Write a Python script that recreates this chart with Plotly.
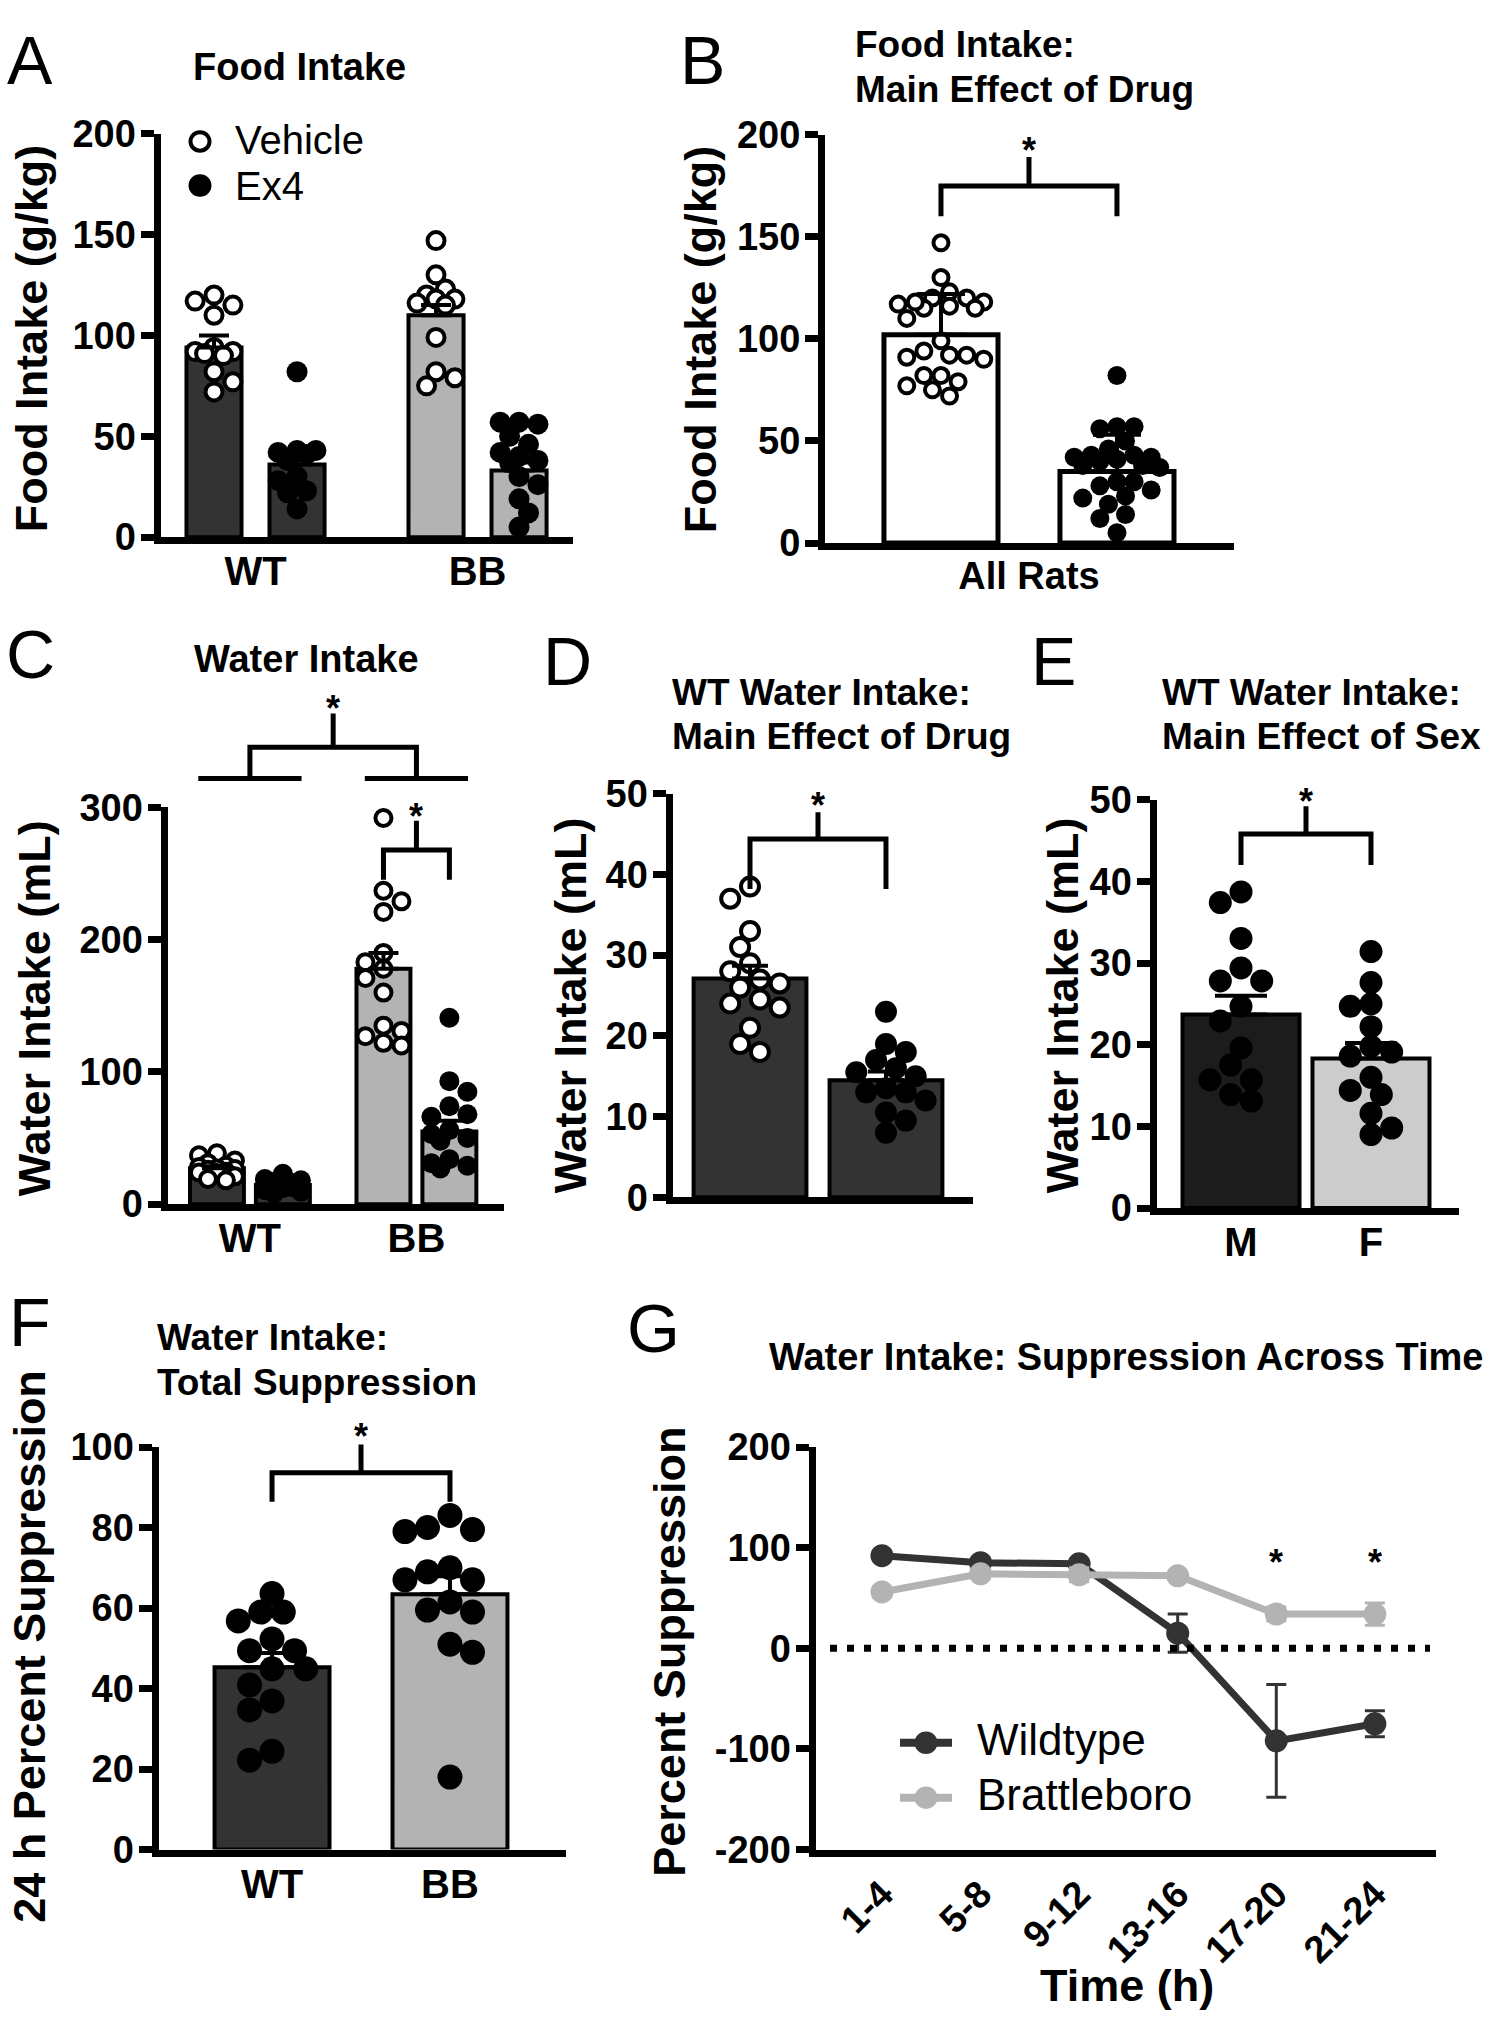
import plotly.graph_objects as go

W, H = 1504, 2040
FONT = "Liberation Sans, Arial, sans-serif"
DARK, LIGHT = "#333333", "#b3b3b3"
DARKER, LIGHTER = "#1c1c1c", "#cccccc"

# ---------- values ----------
groups = ["WT", "BB"]

# A - food intake (g/kg)
food_veh_wt = [120, 117, 115, 110, 94, 92, 92, 91, 90, 82, 77, 72]
food_veh_bb = [147, 130, 123, 120, 118, 118, 116, 115, 99, 82, 79, 75]
food_ex4_wt = [82, 43, 43, 42, 41, 38, 30, 28, 23, 22, 14]
food_ex4_bb = [57, 57, 56, 50, 46, 42, 40, 38, 37, 30, 26, 19, 12, 5]
food_veh_mean = [94, 110]
food_veh_sem = [6, 5]
food_ex4_mean = [36, 33]
food_ex4_sem = [5, 4]

# B - all rats pooled
food_all_mean = [102, 35]
food_all_sd = [20, 18]

# C - water intake (mL), BB rats (WT rats are the D values)
water_veh_bb = [292, 237, 229, 221, 190, 183, 178, 171, 160, 135, 131, 127, 122, 120]
water_ex4_bb = [141, 93, 85, 74, 68, 66, 56, 53, 50, 48, 34, 31, 29, 27]
water_bb_mean = [178, 55]
water_bb_sem = [12, 8]

# D - WT water intake by drug
wt_water_veh = [38.5, 37, 33, 31, 29, 28, 27, 26.5, 26, 24.5, 24, 23.5, 21, 19, 18]
wt_water_ex4 = [23, 19, 18, 17, 16, 15.5, 15, 13.5, 13, 13, 12, 10.5, 9.5, 8]
wt_water_mean = [27.1, 14.5]
wt_water_sem = [1.6, 1.1]

# E - WT water intake by sex
sexes = ["M", "F"]
wt_water_m = [38.7, 37.4, 33, 29.4, 27.8, 27.8, 24.7, 22.9, 19.6, 17.5, 15.7, 15.7, 13.9, 13.1]
wt_water_f = [31.4, 27.6, 25, 24.7, 22.2, 19.8, 19.1, 18.6, 16, 14.4, 13.9, 11.6, 9.8, 9]
sex_mean = [23.7, 18.3]
sex_sem = [2.3, 1.9]

# F - 24 h percent suppression
supp_wt = [63.6, 59, 59, 56.8, 52.3, 49.4, 49.4, 44.9, 44.9, 40.9, 36.9, 34.7, 24.4, 22.2]
supp_bb = [83, 80, 79.5, 79, 70, 69, 67, 67, 61.5, 59.5, 59, 51, 49, 18]
supp_mean = [45.3, 63.4]
supp_sem = [3.5, 4.5]

# G - suppression across time
time_bins = ["1-4", "5-8", "9-12", "13-16", "17-20", "21-24"]
supp_time_wt = [92, 85, 84, 15, -92, -75]
supp_time_wt_sem = [4, 4, 4, 19, 56, 13]
supp_time_bb = [56, 74, 73, 72, 34, 34]
supp_time_bb_sem = [5, 5, 7, 4, 7, 11]

# ---------- panel geometry (pixels of the 1504x2040 page) ----------
panels = {
    "A": dict(n=1, px=(160.5, 573), py=(115, 527), xr=(-0.428, 1.43), yr=(0, 200), dt=50),
    "B": dict(n=2, px=(825, 1234), py=(116, 533), xr=(-0.659, 1.665), yr=(0, 200), dt=50),
    "C": dict(n=3, px=(167.5, 504), py=(803, 1208), xr=(-0.495, 1.526), yr=(0, 300), dt=100),
    "D": dict(n=4, px=(672.5, 973), py=(789, 1201), xr=(-0.57, 1.64), yr=(0, 50), dt=10),
    "E": dict(n=5, px=(1156.5, 1459), py=(795, 1212), xr=(-0.65, 1.677), yr=(0, 50), dt=10),
    "F": dict(n=6, px=(158.5, 566), py=(1456, 1867), xr=(-0.638, 1.652), yr=(0, 100), dt=20),
    "G": dict(n=7, px=(815.5, 1436), py=(1456, 1867), xr=(-0.674, 5.62), yr=(-200, 200), dt=100),
}


def ids(p):
    s = "" if p["n"] == 1 else str(p["n"])
    return "x" + s, "y" + s


def ppx(p):
    (a, b), (r0, r1) = p["px"], p["xr"]
    return (b - a) / (r1 - r0)


def px_x(p, v):
    return p["px"][0] + (v - p["xr"][0]) * ppx(p)


def px_y(p, v):
    (top, bot), (r0, r1) = p["py"], p["yr"]
    return bot - (v - r0) / (r1 - r0) * (bot - top)


def paper(xp, yp):
    return xp / W, 1 - yp / H


def swarm(p, vals, diam, bw):
    # simple beeswarm kept inside the bar: offsets in x units
    (top, bot), (s0, s1) = p["py"], p["yr"]
    ppy = (bot - top) / (s1 - s0)
    maxoff = bw * ppx(p) / 2 - diam * 0.35
    step = diam * 0.45
    order = sorted(range(len(vals)), key=lambda i: -vals[i])
    placed, offs = [], [0.0] * len(vals)
    mind = diam * 0.8
    flip = 1
    for i in order:
        y = vals[i] * ppy
        cands = [0.0]
        k = 1
        while k * step <= maxoff:
            cands += [flip * k * step, -flip * k * step]
            k += 1
        best, bestd = 0.0, -1
        for c in cands:
            d = min([((c - qx) ** 2 + (y - qy) ** 2) ** 0.5 for qx, qy in placed] or [1e9])
            if d >= mind:
                best = c
                break
            if d > bestd:
                best, bestd = c, d
        flip = -flip
        placed.append((best, y))
        offs[i] = best / ppx(p)
    return offs


fig = go.Figure()
layout = dict(width=W, height=H, margin=dict(l=0, r=0, t=0, b=0),
              paper_bgcolor="white", plot_bgcolor="white", showlegend=False,
              font=dict(family=FONT, color="black"))

for key, p in panels.items():
    xid, yid = ids(p)
    s = xid[1:]
    (a, b), (top, bot) = p["px"], p["py"]
    r0, r1 = p["yr"]
    tv = list(range(r0, r1 + 1, p["dt"]))
    layout["xaxis" + s] = dict(domain=[a / W, b / W], range=list(p["xr"]), anchor=yid,
                               showline=True, linewidth=7, linecolor="black", ticks="",
                               showgrid=False, zeroline=False, showticklabels=False,
                               tickfont=dict(size=40, weight="bold"), ticklabelstandoff=-7)
    layout["yaxis" + s] = dict(domain=[1 - bot / H, 1 - top / H], range=[r0, r1], anchor=xid,
                               showline=True, linewidth=7, linecolor="black",
                               ticks="outside", ticklen=13, tickwidth=7, tickcolor="black",
                               tickvals=tv, ticktext=[str(v) for v in tv],
                               showgrid=False, zeroline=False,
                               tickfont=dict(size=38, weight="bold"), ticklabelstandoff=-3)

OPEN = dict(color="white", line=dict(color="black", width=4))
FILLED = dict(color="black", line=dict(color="black", width=0))


def bar_panel(p, xs, means, errs, colors, bw, cap, point_sets, styles, diam, lw=4):
    xid, yid = ids(p)
    fig.add_trace(go.Bar(x=xs, y=means, width=bw, xaxis=xid, yaxis=yid,
                         marker=dict(color=colors, line=dict(color="black", width=lw))))
    for x0, vals, st in zip(xs, point_sets, styles):
        offs = swarm(p, vals, diam, bw)
        size = diam - 4 if st is OPEN else diam
        fig.add_trace(go.Scatter(x=[x0 + o for o in offs], y=vals, mode="markers",
                                 marker=dict(size=size, **st), cliponaxis=False,
                                 xaxis=xid, yaxis=yid))
    fig.add_trace(go.Scatter(x=xs, y=means, mode="markers", xaxis=xid, yaxis=yid,
                             marker=dict(size=2, color="rgba(0,0,0,0)"),
                             error_y=dict(type="data", symmetric=False, array=errs,
                                          arrayminus=[0] * len(errs), color="black",
                                          thickness=4, width=cap)))


def pairs(off):
    return [g + sgn * off for g in range(len(groups)) for sgn in (-1, 1)]


# A
pA = panels["A"]
bar_panel(pA, pairs(0.187),
          [food_veh_mean[0], food_ex4_mean[0], food_veh_mean[1], food_ex4_mean[1]],
          [food_veh_sem[0], food_ex4_sem[0], food_veh_sem[1], food_ex4_sem[1]],
          [DARK, DARK, LIGHT, LIGHT], 0.248, 15,
          [food_veh_wt, food_ex4_wt, food_veh_bb, food_ex4_bb],
          [OPEN, FILLED, OPEN, FILLED], 21)
layout["xaxis"].update(showticklabels=True, tickvals=[0, 1], ticktext=groups)

# B
pB = panels["B"]
bar_panel(pB, [0, 1], food_all_mean, food_all_sd, ["white", "white"], 0.648, 24,
          [food_veh_wt + food_veh_bb, food_ex4_wt + food_ex4_bb], [OPEN, FILLED], 19, lw=5)
layout["xaxis2"].update(showticklabels=True, tickvals=[0.5], ticktext=["All Rats"],
                        tickfont=dict(size=38, weight="bold"))

# C
pC = panels["C"]
bar_panel(pC, pairs(0.198),
          [wt_water_mean[0], wt_water_mean[1], water_bb_mean[0], water_bb_mean[1]],
          [wt_water_sem[0], wt_water_sem[1], water_bb_sem[0], water_bb_sem[1]],
          [DARK, DARK, LIGHT, LIGHT], 0.324, 15,
          [wt_water_veh, wt_water_ex4, water_veh_bb, water_ex4_bb],
          [OPEN, FILLED, OPEN, FILLED], 20)
layout["xaxis3"].update(showticklabels=True, tickvals=[0, 1], ticktext=groups)

# D
pD = panels["D"]
bar_panel(pD, [0, 1], wt_water_mean, wt_water_sem, [DARK, DARK], 0.83, 18,
          [wt_water_veh, wt_water_ex4], [OPEN, FILLED], 22)

# E
pE = panels["E"]
bar_panel(pE, [0, 1], sex_mean, sex_sem, [DARKER, LIGHTER], 0.9, 26,
          [wt_water_m, wt_water_f], [FILLED, FILLED], 23)
layout["xaxis5"].update(showticklabels=True, tickvals=[0, 1], ticktext=sexes)

# F
pF = panels["F"]
bar_panel(pF, [0, 1], supp_mean, supp_sem, [DARK, LIGHT], 0.646, 30,
          [supp_wt, supp_bb], [FILLED, FILLED], 25)
layout["xaxis6"].update(showticklabels=True, tickvals=[0, 1], ticktext=groups)

# G
pG = panels["G"]
for vals, sem, col in [(supp_time_wt, supp_time_wt_sem, DARK), (supp_time_bb, supp_time_bb_sem, LIGHT)]:
    fig.add_trace(go.Scatter(x=list(range(len(time_bins))), y=vals, mode="lines+markers",
                             xaxis="x7", yaxis="y7", cliponaxis=False,
                             line=dict(color=col, width=7), marker=dict(size=23, color=col),
                             error_y=dict(type="data", array=sem, color=col, thickness=3, width=10)))
layout["xaxis7"].update(showticklabels=True, tickvals=list(range(len(time_bins))),
                        ticktext=time_bins, tickangle=-45, ticklabelstandoff=0,
                        tickfont=dict(size=38, weight="bold"))

# ---------- annotations and shapes ----------
anns, shapes = [], []


def text(t, xp, yp, size, bold=True, xanchor="center", angle=0, yshift=0):
    x, y = paper(xp, yp)
    anns.append(dict(text=t, x=x, y=y, xref="paper", yref="paper", showarrow=False,
                     xanchor=xanchor, yanchor="middle", textangle=angle, yshift=yshift,
                     font=dict(size=size, weight="bold" if bold else "normal", family=FONT, color="black")))


def seg_path(p, pts_list):
    d = ""
    for pts in pts_list:
        for j, (xv, yv) in enumerate(pts):
            x, y = paper(px_x(p, xv), px_y(p, yv))
            d += ("M" if j == 0 else "L") + f"{x:.5f},{y:.5f} "
    shapes.append(dict(type="path", path=d.strip(), xref="paper", yref="paper",
                       line=dict(color="black", width=5)))


def bracket(p, xl, xr, yleg, ybar, ytop, ystar):
    xm = (xl + xr) / 2
    seg_path(p, [[(xl, yleg), (xl, ybar), (xr, ybar), (xr, yleg)], [(xm, ybar), (xm, ytop)]])
    text("*", px_x(p, xm), px_y(p, ystar), 36, yshift=-8)


def circle(cx, cy, d, fill, lw, lc="black"):
    x0, y1 = paper(cx - d / 2, cy - d / 2)
    x1, y0 = paper(cx + d / 2, cy + d / 2)
    shapes.append(dict(type="circle", xref="paper", yref="paper", x0=x0, x1=x1, y0=y0, y1=y1,
                       fillcolor=fill, line=dict(color=lc, width=lw)))


# panel letters
for letter, xp, yp in [("A", 30, 40), ("B", 702, 40), ("C", 30, 646), ("D", 567, 653),
                       ("E", 1053, 653), ("F", 30, 1328), ("G", 653, 1334)]:
    text(letter, xp, yp, 68, bold=False)

# titles
text("Food Intake", 299, 47, 38)
text("Food Intake:", 853, 24, 37, xanchor="left")
text("Main Effect of Drug", 853, 70, 37, xanchor="left")
text("Water Intake", 306, 651, 38)
text("WT Water Intake:", 670, 686, 37, xanchor="left")
text("Main Effect of Drug", 670, 731, 37, xanchor="left")
text("WT Water Intake:", 1160, 686, 37, xanchor="left")
text("Main Effect of Sex", 1160, 731, 37, xanchor="left")
text("Water Intake:", 155, 1344, 37, xanchor="left")
text("Total Suppression", 155, 1390, 37, xanchor="left")
text("Water Intake: Suppression Across Time", 1126, 1364, 38)

# axis titles
text("Food Intake (g/kg)", 31, 324, 45, angle=-90)
text("Food Intake (g/kg)", 700, 325, 45, angle=-90)
text("Water Intake (mL)", 34, 1008, 45, angle=-90)
text("Water Intake (mL)", 570, 1005, 45, angle=-90)
text("Water Intake (mL)", 1062, 1005, 45, angle=-90)
text("24 h Percent Suppression", 30, 1660, 45, angle=-90)
text("Percent Suppression", 670, 1665, 45, angle=-90)
text("Time (h)", 1127, 2006, 45)

# significance brackets
bracket(pB, 0, 1, 160, 174.8, 189, 196)
bracket(pD, 0, 1, 38.2, 44.4, 47.7, 49.5)
bracket(pE, 0, 1, 42, 45.8, 49.2, 50.7)
bracket(pF, 0, 1, 86.4, 93.6, 100.6, 104.5)
bracket(pC, 1 - 0.198, 1 + 0.198, 245.4, 267.8, 290, 299)
seg_path(pC, [[(-0.31, 322), (0.31, 322)], [(0.69, 322), (1.31, 322)],
              [(0, 322), (0, 345.6), (1, 345.6), (1, 322)], [(0.5, 345.6), (0.5, 371)]])
text("*", px_x(pC, 0.5), px_y(pC, 381), 36, yshift=-8)
for i in (4, 5):
    text("*", px_x(pG, i), px_y(pG, 93), 36, yshift=-8)

# dotted zero line in G
x0, y0 = paper(830, px_y(pG, 0))
x1, _ = paper(1430, 0)
shapes.append(dict(type="line", xref="paper", yref="paper", x0=x0, x1=x1, y0=y0, y1=y0,
                   line=dict(color="black", width=7, dash="7px,10px")))

# legend A
circle(200, 123, 19, "white", 4)
circle(200, 168, 23, "black", 0)
text("Vehicle", 233, 121, 40, bold=False, xanchor="left")
text("Ex4", 233, 168, 40, bold=False, xanchor="left")

# legend G
for yp, col, name in [(1758, DARK, "Wildtype"), (1814, LIGHT, "Brattleboro")]:
    xa, ya = paper(900, yp)
    xb, _ = paper(952, yp)
    shapes.append(dict(type="line", xref="paper", yref="paper", x0=xa, x1=xb, y0=ya, y1=ya,
                       line=dict(color=col, width=8)))
    circle(926, yp, 23, col, 0, col)
    text(name, 975, yp - 3, 44, bold=False, xanchor="left")

layout["annotations"] = anns
layout["shapes"] = shapes
fig.update_layout(**layout)
fig.write_html("out.html", config={"displayModeBar": False},
               post_script="document.body.style.margin='0';")
